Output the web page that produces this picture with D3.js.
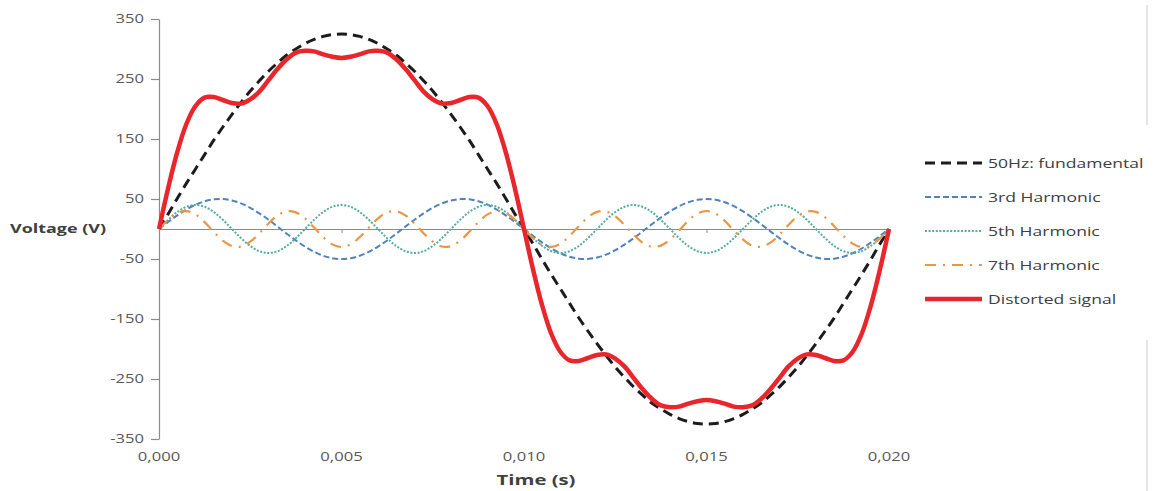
<!DOCTYPE html>
<html>
<head>
<meta charset="utf-8">
<script src="https://cdn.jsdelivr.net/npm/d3@7"></script>
<style>
  html, body { margin: 0; padding: 0; background: #ffffff; }
  svg { display: block; }
</style>
</head>
<body>
<svg id="chart" width="1153" height="491"></svg>
<script>
// Time samples (s) over one 50 Hz period
const time = [0.00000,0.00025,0.00050,0.00075,0.00100,0.00125,0.00150,0.00175,0.00200,0.00225,
  0.00250,0.00275,0.00300,0.00325,0.00350,0.00375,0.00400,0.00425,0.00450,0.00475,
  0.00500,0.00525,0.00550,0.00575,0.00600,0.00625,0.00650,0.00675,0.00700,0.00725,
  0.00750,0.00775,0.00800,0.00825,0.00850,0.00875,0.00900,0.00925,0.00950,0.00975,
  0.01000,0.01025,0.01050,0.01075,0.01100,0.01125,0.01150,0.01175,0.01200,0.01225,
  0.01250,0.01275,0.01300,0.01325,0.01350,0.01375,0.01400,0.01425,0.01450,0.01475,
  0.01500,0.01525,0.01550,0.01575,0.01600,0.01625,0.01650,0.01675,0.01700,0.01725,
  0.01750,0.01775,0.01800,0.01825,0.01850,0.01875,0.01900,0.01925,0.01950,0.01975,
  0.02000];

// Voltage (V) of each component
const fundamental = [0,25,51,76,100,124,148,170,191,211,230,247,263,277,290,300,309,316,321,324,325,
  324,321,316,309,300,290,277,263,247,230,211,191,170,148,124,100,76,51,25,0,
  -25,-51,-76,-100,-124,-148,-170,-191,-211,-230,-247,-263,-277,-290,-300,-309,-316,-321,-324,-325,
  -324,-321,-316,-309,-300,-290,-277,-263,-247,-230,-211,-191,-170,-148,-124,-100,-76,-51,-25,0];

const harmonic3 = [0,11.7,22.7,32.5,40.5,46.2,49.4,49.8,47.6,42.6,35.4,26.1,15.5,3.9,-7.8,-19.1,-29.4,-38.0,-44.6,-48.6,
  -50,-48.6,-44.6,-38.0,-29.4,-19.1,-7.8,3.9,15.5,26.1,35.4,42.6,47.6,49.8,49.4,46.2,40.5,32.5,22.7,11.7,0,
  -11.7,-22.7,-32.5,-40.5,-46.2,-49.4,-49.8,-47.6,-42.6,-35.4,-26.1,-15.5,-3.9,7.8,19.1,29.4,38.0,44.6,48.6,
  50,48.6,44.6,38.0,29.4,19.1,7.8,-3.9,-15.5,-26.1,-35.4,-42.6,-47.6,-49.8,-49.4,-46.2,-40.5,-32.5,-22.7,-11.7,0];

const harmonic5 = [0,15.3,28.3,37,40,37,28.3,15.3,0,-15.3,-28.3,-37,-40,-37,-28.3,-15.3,
  0,15.3,28.3,37,40,37,28.3,15.3,0,-15.3,-28.3,-37,-40,-37,-28.3,-15.3,
  0,15.3,28.3,37,40,37,28.3,15.3,0,-15.3,-28.3,-37,-40,-37,-28.3,-15.3,
  0,15.3,28.3,37,40,37,28.3,15.3,0,-15.3,-28.3,-37,-40,-37,-28.3,-15.3,
  0,15.3,28.3,37,40,37,28.3,15.3,0,-15.3,-28.3,-37,-40,-37,-28.3,-15.3,0];

const harmonic7 = [0,15.7,26.7,29.9,24.3,11.5,-4.7,-19.5,-28.5,-29.2,-21.2,-7.0,9.3,22.8,29.6,27.7,17.6,2.4,-13.6,-25.6,
  -30,-25.6,-13.6,2.4,17.6,27.7,29.6,22.8,9.3,-7.0,-21.2,-29.2,-28.5,-19.5,-4.7,11.5,24.3,29.9,26.7,15.7,0,
  -15.7,-26.7,-29.9,-24.3,-11.5,4.7,19.5,28.5,29.2,21.2,7.0,-9.3,-22.8,-29.6,-27.7,-17.6,-2.4,13.6,25.6,
  30,25.6,13.6,-2.4,-17.6,-27.7,-29.6,-22.8,-9.3,7.0,21.2,29.2,28.5,19.5,4.7,-11.5,-24.3,-29.9,-26.7,-15.7,0];

const distorted = [0,68,128,175,205,219,220,215,210,209,216,229,248,267,283,294,297,296,291,287,
  285,287,291,296,297,294,283,267,248,229,216,209,210,215,220,219,205,175,128,68,0,
  -68,-128,-175,-205,-219,-220,-215,-210,-209,-216,-229,-248,-267,-283,-294,-297,-296,-291,-287,
  -285,-287,-291,-296,-297,-294,-283,-267,-248,-229,-216,-209,-210,-215,-220,-219,-205,-175,-128,-68,0];

// Axis ticks
const yTicks = [350, 250, 150, 50, -50, -150, -250, -350];
const xTicks = [0.000, 0.005, 0.010, 0.015, 0.020];

// Series names, in drawing order
const seriesNames = ["50Hz: fundamental", "3rd Harmonic", "5th Harmonic", "7th Harmonic", "Distorted signal"];
const seriesValues = [fundamental, harmonic3, harmonic5, harmonic7, distorted];

// Line styles
const styles = [
  { color: "#1c1c1c", width: 3,   dash: "10,6" },
  { color: "#4f83bd", width: 2,   dash: "6,3" },
  { color: "#52ad9c", width: 2,   dash: "2,1.6" },
  { color: "#ec9645", width: 2.2, dash: "11,7,2,7" },
  { color: "#e8262b", width: 4.5, dash: null }
];

const svg = d3.select("#chart");
const SX = 1.33; // horizontal stretch of the lettering
const FONT = "'Open Sans', 'DejaVu Sans', sans-serif";

const x = d3.scaleLinear().domain([0, 0.02]).range([159, 889]);
const y = d3.scaleLinear().domain([-350, 350]).range([439, 19]);

function label(px, py, str, opts = {}) {
  const g = svg.append("g").attr("transform", `translate(${px},${py}) scale(${opts.sx || SX},1)`);
  g.append("text")
    .attr("x", 0).attr("y", 0)
    .attr("dy", "0.35em")
    .attr("text-anchor", opts.anchor || "start")
    .attr("font-family", FONT)
    .attr("font-size", opts.size || 12.5)
    .attr("font-weight", opts.weight || "normal")
    .attr("fill", opts.fill || "#595959")
    .text(str);
}

// Faint frame edge at the right
svg.append("line").attr("x1", 1147).attr("x2", 1147).attr("y1", 5).attr("y2", 125)
  .attr("stroke", "#dcdcdc").attr("stroke-width", 1.5);
svg.append("line").attr("x1", 1147).attr("x2", 1147).attr("y1", 340).attr("y2", 491)
  .attr("stroke", "#dcdcdc").attr("stroke-width", 1.5);

// Vertical axis
const yAxis = svg.append("g").attr("transform", "translate(159,0)")
  .call(d3.axisLeft(y).tickValues(yTicks).tickSize(8).tickSizeOuter(0).tickFormat(""));
yAxis.select(".domain").attr("stroke", "#8c8c8c").attr("stroke-width", 1.2);
yAxis.selectAll(".tick line").attr("stroke", "#8c8c8c").attr("stroke-width", 1.2);
yTicks.forEach(v => label(144, y(v), String(v), { anchor: "end" }));

// Horizontal axis along 0 V
const xAxis = svg.append("g").attr("transform", `translate(0,${y(0)})`)
  .call(d3.axisBottom(x).tickValues(xTicks).tickSize(4).tickSizeOuter(0).tickFormat(""));
xAxis.select(".domain").attr("stroke", "#8c8c8c").attr("stroke-width", 1.2);
xAxis.selectAll(".tick line").attr("stroke", "#8c8c8c").attr("stroke-width", 1);
const fmt = d3.format(".3f");
xTicks.forEach(v => label(x(v), 457, fmt(v).replace(".", ","), { anchor: "middle" }));

// Axis titles
label(10, 228, "Voltage (V)", { size: 13, weight: "bold", fill: "#404040", sx: 1.38 });
label(536, 480, "Time (s)", { size: 14.5, weight: "bold", fill: "#404040", sx: 1.4, anchor: "middle" });

// Curves
const line = d3.line()
  .x((d, i) => x(time[i]))
  .y(d => y(d))
  .curve(d3.curveCatmullRom.alpha(0.5));

seriesValues.forEach((vals, i) => {
  const s = styles[i];
  svg.append("path")
    .datum(vals)
    .attr("d", line)
    .attr("fill", "none")
    .attr("stroke", s.color)
    .attr("stroke-width", s.width)
    .attr("stroke-dasharray", s.dash)
    .attr("stroke-linejoin", "round");
});

// Legend
const legendY = [163, 197, 231, 265, 299];
seriesNames.forEach((name, i) => {
  const s = styles[i];
  svg.append("line")
    .attr("x1", 925).attr("x2", 982)
    .attr("y1", legendY[i]).attr("y2", legendY[i])
    .attr("stroke", s.color)
    .attr("stroke-width", s.width)
    .attr("stroke-dasharray", s.dash);
  label(988, legendY[i], name, { size: 13.5, fill: "#404040", sx: 1.3 });
});
</script>
</body>
</html>
